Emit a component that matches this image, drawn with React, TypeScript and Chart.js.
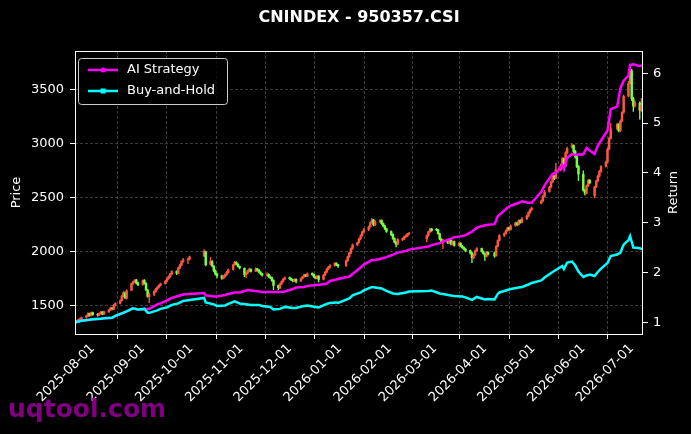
import React, { useEffect, useRef } from "react";
import { Chart, registerables } from "chart.js";

Chart.register(...registerables);

// calendar
const startDate = "2025-07-21";
const endDate = "2026-07-08";
const monthTicks = [
  "2025-08-01", "2025-09-01", "2025-10-01", "2025-11-01", "2025-12-01", "2026-01-01",
  "2026-02-01", "2026-03-01", "2026-04-01", "2026-05-01", "2026-06-01", "2026-07-01",
];
const holidays = [
  "2025-10-01", "2025-10-02", "2025-10-03", "2025-10-06", "2025-10-07", "2025-10-08",
  "2026-01-01", "2026-01-02", "2026-02-16", "2026-02-17", "2026-02-18", "2026-02-19",
  "2026-02-20", "2026-02-23", "2026-04-06", "2026-05-01", "2026-05-04", "2026-05-05",
  "2026-06-19",
];

// daily candles, one row per trading day: [open, high, low, close]
const ohlc = [
  [1338, 1352, 1330, 1345], [1346, 1368, 1340, 1362], [1360, 1378, 1352, 1371], [1372, 1388, 1364, 1380], [1378, 1398, 1372, 1392],
  [1394, 1412, 1386, 1405], [1406, 1436, 1400, 1428], [1430, 1434, 1404, 1412], [1410, 1442, 1406, 1436], [1438, 1442, 1414, 1420],
  [1421, 1430, 1405, 1418], [1416, 1436, 1410, 1430], [1431, 1450, 1424, 1442], [1444, 1448, 1418, 1425], [1424, 1452, 1420, 1447],
  [1446, 1468, 1440, 1462], [1463, 1488, 1458, 1480], [1482, 1486, 1462, 1471], [1470, 1512, 1466, 1505], [1506, 1530, 1498, 1522],
  [1524, 1556, 1518, 1548], [1550, 1598, 1544, 1590], [1592, 1632, 1585, 1620], [1622, 1628, 1568, 1575], [1572, 1650, 1562, 1640],
  [1645, 1712, 1640, 1705], [1708, 1730, 1698, 1722], [1726, 1744, 1716, 1738], [1740, 1746, 1704, 1712], [1714, 1720, 1688, 1696],
  [1698, 1742, 1690, 1735], [1738, 1744, 1702, 1712], [1710, 1716, 1642, 1650], [1648, 1652, 1580, 1588], [1585, 1618, 1530, 1606],
  [1608, 1640, 1596, 1632], [1634, 1662, 1626, 1655], [1656, 1680, 1648, 1672], [1674, 1698, 1664, 1690], [1692, 1712, 1684, 1705],
  [1706, 1736, 1700, 1728], [1730, 1760, 1722, 1752], [1754, 1778, 1746, 1770], [1772, 1802, 1764, 1795], [1797, 1826, 1790, 1818],
  [1820, 1826, 1790, 1802], [1800, 1858, 1796, 1850], [1852, 1886, 1844, 1878], [1880, 1918, 1872, 1910], [1912, 1940, 1902, 1925],
  [1926, 1944, 1890, 1932], [1934, 1962, 1924, 1955],
  [1962, 2022, 1955, 2005], [2000, 2008, 1870, 1880],
  [1885, 1948, 1878, 1915], [1912, 1920, 1862, 1870], [1868, 1874, 1815, 1828], [1826, 1834, 1785, 1795], [1796, 1804, 1760, 1780],
  [1778, 1786, 1745, 1758], [1756, 1780, 1750, 1772], [1770, 1798, 1764, 1790], [1788, 1820, 1782, 1812], [1810, 1842, 1804, 1835],
  [1838, 1888, 1830, 1880], [1882, 1912, 1876, 1902], [1904, 1908, 1880, 1888], [1886, 1892, 1858, 1865], [1866, 1870, 1842, 1852],
  [1848, 1852, 1770, 1790], [1788, 1810, 1762, 1802], [1804, 1832, 1796, 1825], [1826, 1850, 1818, 1838], [1840, 1844, 1812, 1820],
  [1822, 1852, 1816, 1842], [1844, 1848, 1822, 1830], [1832, 1836, 1806, 1812], [1810, 1818, 1788, 1796], [1798, 1802, 1776, 1785],
  [1784, 1806, 1778, 1790], [1792, 1798, 1764, 1772], [1770, 1778, 1752, 1760], [1762, 1766, 1726, 1735], [1736, 1742, 1650, 1690],
  [1688, 1694, 1648, 1668], [1666, 1710, 1660, 1702], [1704, 1732, 1696, 1725], [1726, 1756, 1720, 1748], [1750, 1770, 1742, 1760],
  [1762, 1768, 1744, 1752], [1754, 1758, 1734, 1740], [1742, 1746, 1722, 1732], [1730, 1752, 1724, 1745], [1746, 1750, 1712, 1728],
  [1730, 1760, 1724, 1752], [1754, 1774, 1748, 1768], [1770, 1794, 1764, 1785], [1786, 1792, 1770, 1778], [1776, 1806, 1770, 1798],
  [1800, 1806, 1782, 1790], [1792, 1796, 1764, 1770], [1772, 1776, 1750, 1758], [1756, 1782, 1750, 1775], [1776, 1780, 1722, 1745],
  [1746, 1792, 1740, 1785], [1788, 1820, 1780, 1812], [1814, 1848, 1806, 1840], [1842, 1866, 1834, 1858], [1860, 1882, 1850, 1872],
  [1874, 1902, 1866, 1895], [1896, 1900, 1872, 1880], [1882, 1886, 1856, 1868],
  [1872, 1926, 1866, 1918], [1920, 1962, 1912, 1955], [1957, 1998, 1950, 1990], [1992, 2038, 1984, 2030], [2032, 2074, 2024, 2065],
  [2066, 2092, 2056, 2085], [2088, 2128, 2080, 2120], [2122, 2158, 2112, 2150], [2152, 2192, 2146, 2185], [2186, 2218, 2178, 2205],
  [2208, 2240, 2196, 2232], [2234, 2278, 2226, 2270], [2272, 2310, 2264, 2295], [2296, 2302, 2240, 2250], [2252, 2288, 2244, 2280],
  [2282, 2296, 2270, 2290], [2292, 2298, 2254, 2262], [2264, 2270, 2232, 2240], [2242, 2248, 2206, 2215], [2214, 2220, 2180, 2190],
  [2188, 2194, 2150, 2160], [2162, 2168, 2116, 2125], [2124, 2130, 2082, 2090], [2088, 2096, 2046, 2070], [2072, 2124, 2064, 2115],
  [2112, 2130, 2104, 2122], [2120, 2146, 2114, 2138], [2140, 2158, 2132, 2150], [2148, 2172, 2142, 2165], [2166, 2182, 2158, 2172],
  [2120, 2158, 2092, 2150], [2152, 2192, 2144, 2185], [2186, 2220, 2178, 2210], [2212, 2218, 2190, 2198],
  [2212, 2216, 2196, 2205], [2206, 2210, 2162, 2170], [2168, 2174, 2112, 2120], [2118, 2124, 2086, 2095], [2094, 2118, 2030, 2110],
  [2108, 2112, 2076, 2085], [2084, 2118, 2078, 2110], [2112, 2116, 2064, 2072], [2070, 2102, 2064, 2095], [2096, 2100, 2052, 2060],
  [2062, 2088, 2056, 2078], [2080, 2086, 2046, 2052], [2054, 2060, 2032, 2040], [2042, 2048, 2018, 2025], [2026, 2032, 2000, 2010],
  [2012, 2018, 1980, 1990], [1992, 1996, 1900, 1945], [1944, 1980, 1938, 1972], [1974, 2018, 1966, 2010], [2012, 2040, 2004, 2030],
  [2032, 2036, 1998, 2005], [2004, 2010, 1978, 1985], [1984, 1990, 1920, 1960], [1958, 2002, 1952, 1995], [1996, 2000, 1970, 1978],
  [1990, 2000, 1950, 1962], [1964, 2058, 1960, 2050], [2052, 2112, 2046, 2105], [2106, 2160, 2100, 2150],
  [2152, 2176, 2140, 2168], [2170, 2204, 2164, 2195], [2196, 2230, 2190, 2222], [2224, 2230, 2200, 2210], [2208, 2250, 2202, 2240],
  [2242, 2276, 2236, 2268], [2270, 2276, 2244, 2252], [2254, 2298, 2248, 2290], [2292, 2298, 2266, 2275], [2274, 2320, 2268, 2305],
  [2306, 2340, 2300, 2330], [2332, 2372, 2324, 2362], [2364, 2398, 2356, 2390], [2392, 2415, 2384, 2405],
  [2450, 2482, 2444, 2470], [2472, 2524, 2464, 2515], [2516, 2570, 2508, 2552],
  [2560, 2608, 2552, 2598], [2600, 2656, 2592, 2645], [2648, 2712, 2640, 2700], [2702, 2710, 2668, 2680], [2682, 2820, 2676, 2760],
  [2762, 2812, 2750, 2800], [2802, 2874, 2794, 2862], [2864, 2870, 2770, 2790], [2792, 2928, 2786, 2915], [2916, 2970, 2908, 2955],
  [2970, 3000, 2960, 2985], [2986, 2992, 2920, 2930], [2932, 2940, 2868, 2880], [2882, 2888, 2780, 2790], [2792, 2800, 2660, 2720],
  [2718, 2750, 2562, 2570], [2572, 2580, 2525, 2545], [2546, 2620, 2538, 2610], [2612, 2672, 2604, 2660], [2662, 2670, 2630, 2640],
  [2520, 2608, 2500, 2600], [2602, 2664, 2594, 2655], [2656, 2712, 2648, 2700], [2702, 2756, 2694, 2745], [2746, 2800, 2736, 2790],
  [2792, 2842, 2784, 2830], [2832, 2962, 2824, 2950], [2952, 3062, 2944, 3050], [3052, 3190, 3044, 3140],
  [3142, 3192, 3130, 3180], [3182, 3188, 3110, 3120], [3122, 3222, 3114, 3210], [3212, 3300, 3204, 3290], [3292, 3452, 3284, 3440],
  [3442, 3580, 3434, 3560], [3562, 3710, 3554, 3675], [3676, 3690, 3400, 3420], [3418, 3430, 3300, 3350], [3352, 3396, 3340, 3380],
  [3378, 3390, 3230, 3310], [3312, 3420, 3300, 3360], [3362, 3372, 3300, 3320],
];

// return curves, sampled about twice a week (days since start date)
const lineDay = [
  0, 4, 9, 11, 16, 18, 23, 25, 29, 32, 36, 39, 43, 45, 46, 51, 53, 57, 60, 64, 67, 71, 80, 81, 86, 88, 93, 95, 99, 102,
  107, 109, 114, 116, 121, 123, 127, 130, 135, 137, 142, 144, 149, 151, 156, 158, 162, 163, 170, 172, 177, 179, 184, 186,
  190, 193, 197, 200, 205, 207, 219, 221, 226, 228, 233, 235, 240, 242, 246, 249, 254, 256, 260, 262, 263, 268, 270, 275,
  277, 281, 283, 289, 291, 296, 298, 302, 303, 305, 308, 310, 312, 315, 317, 319, 322, 324, 326, 330, 332, 336, 338, 340,
  343, 344, 346, 349, 352,
];
const stratReturn = [
  1.0, 1.03, 1.05, 1.06, 1.07, 1.08, 1.09, 1.13, 1.18, 1.22, 1.28, 1.26, 1.27, 1.27, 1.27, 1.36, 1.38, 1.44, 1.49, 1.53,
  1.56, 1.57, 1.59, 1.54, 1.52, 1.52, 1.55, 1.57, 1.6, 1.6, 1.65, 1.64, 1.62, 1.61, 1.61, 1.61, 1.61, 1.62, 1.67, 1.7,
  1.71, 1.73, 1.75, 1.75, 1.78, 1.83, 1.86, 1.87, 1.92, 1.97, 2.1, 2.16, 2.25, 2.25, 2.28, 2.31, 2.36, 2.4, 2.43, 2.46,
  2.52, 2.55, 2.59, 2.62, 2.68, 2.71, 2.73, 2.75, 2.82, 2.9, 2.95, 2.96, 2.97, 3.13, 3.16, 3.3, 3.34, 3.4, 3.43, 3.4,
  3.4, 3.62, 3.75, 3.98, 4.0, 4.15, 4.07, 4.3, 4.38, 4.36, 4.37, 4.37, 4.5, 4.45, 4.38, 4.55, 4.65, 4.85, 5.28, 5.33,
  5.7, 5.85, 5.95, 6.17, 6.18, 6.15, 6.15,
];
const holdReturn = [
  1.0, 1.03, 1.05, 1.06, 1.07, 1.08, 1.09, 1.13, 1.18, 1.22, 1.28, 1.26, 1.27, 1.19, 1.19, 1.24, 1.27, 1.3, 1.35, 1.38,
  1.43, 1.45, 1.49, 1.4, 1.36, 1.33, 1.34, 1.37, 1.42, 1.38, 1.36, 1.35, 1.35, 1.33, 1.31, 1.26, 1.27, 1.31, 1.29, 1.29,
  1.33, 1.34, 1.31, 1.3, 1.37, 1.39, 1.4, 1.39, 1.48, 1.54, 1.6, 1.64, 1.71, 1.7, 1.68, 1.63, 1.58, 1.57, 1.6, 1.62,
  1.63, 1.64, 1.58, 1.57, 1.54, 1.53, 1.52, 1.5, 1.45, 1.51, 1.46, 1.47, 1.46, 1.57, 1.6, 1.65, 1.67, 1.7, 1.71, 1.76,
  1.79, 1.84, 1.9, 2.01, 2.05, 2.13, 2.07, 2.2, 2.22, 2.14, 2.02, 1.91, 1.94, 1.96, 1.93, 2.01, 2.08, 2.19, 2.33, 2.36,
  2.4, 2.56, 2.65, 2.73, 2.5, 2.49, 2.47,
];

const priceTicks = [1500, 2000, 2500, 3000, 3500];
const returnTicks = [1, 2, 3, 4, 5, 6];

const DAY = 86400000;
const t0 = Date.parse(startDate);
const dayOf = (s: string) => Math.round((Date.parse(s) - t0) / DAY);
const lastDay = dayOf(endDate);
const holidayDays = new Set(holidays.map(dayOf));
const tradeDays: number[] = [];
for (let d = 0; d <= lastDay; d++) {
  const wd = new Date(t0 + d * DAY).getUTCDay();
  if (wd !== 0 && wd !== 6 && !holidayDays.has(d)) tradeDays.push(d);
}

const UP = "#ff5544";
const DOWN = "#77ff44";
const FONT = "DejaVu Sans";
const isUp = (i: number) => ohlc[i][3] >= ohlc[i][0];

const decor = {
  id: "decor",
  beforeDraw(chart: any) {
    const { ctx, width, height } = chart;
    ctx.save();
    ctx.fillStyle = "#000";
    ctx.fillRect(0, 0, width, height);
    ctx.restore();
  },
  afterDraw(chart: any) {
    const { ctx, chartArea: a } = chart;
    ctx.save();
    // frame
    ctx.strokeStyle = "#fff";
    ctx.lineWidth = 1;
    ctx.strokeRect(a.left + 0.5, a.top + 0.5, a.right - a.left - 1, a.bottom - a.top);

    ctx.fillStyle = "#fff";
    ctx.textAlign = "center";
    ctx.textBaseline = "middle";
    ctx.font = `bold 16px ${FONT}`;
    ctx.fillText("CNINDEX - 950357.CSI", 359, 18);

    ctx.font = `13px ${FONT}`;
    ctx.save();
    ctx.translate(17, (a.top + a.bottom) / 2);
    ctx.rotate(-Math.PI / 2);
    ctx.fillText("Price", 0, 0);
    ctx.restore();
    ctx.save();
    ctx.translate(674, (a.top + a.bottom) / 2);
    ctx.rotate(-Math.PI / 2);
    ctx.fillText("Return", 0, 0);
    ctx.restore();

    // legend
    const lx = 78, ly = 58, lw = 149, lh = 46;
    ctx.beginPath();
    ctx.roundRect(lx + 0.5, ly + 0.5, lw, lh, 3);
    ctx.fillStyle = "rgba(0,0,0,0.8)";
    ctx.fill();
    ctx.strokeStyle = "#cccccc";
    ctx.stroke();
    const items = [
      { label: "AI Strategy", color: "#ff00ff", y: 70, marker: "circle" },
      { label: "Buy-and-Hold", color: "#00ffff", y: 91, marker: "square" },
    ];
    for (const it of items) {
      ctx.strokeStyle = it.color;
      ctx.lineWidth = 2.5;
      ctx.beginPath();
      ctx.moveTo(88, it.y);
      ctx.lineTo(118, it.y);
      ctx.stroke();
      ctx.fillStyle = it.color;
      if (it.marker === "circle") {
        ctx.beginPath();
        ctx.arc(103, it.y, 2.5, 0, Math.PI * 2);
        ctx.fill();
      } else {
        ctx.fillRect(100.5, it.y - 2.5, 5, 5);
      }
      ctx.fillStyle = "#fff";
      ctx.textAlign = "left";
      ctx.fillText(it.label, 127, it.y);
    }

    // watermark
    ctx.font = `bold 25px ${FONT}`;
    ctx.fillStyle = "rgba(140,0,140,0.92)";
    ctx.textAlign = "left";
    ctx.textBaseline = "alphabetic";
    ctx.fillText("uqtool.com", 8, 417);
    ctx.restore();
  },
};

export default function App() {
  const canvasRef = useRef<HTMLCanvasElement>(null);

  useEffect(() => {
    if (!canvasRef.current) return;
    const tickDays = monthTicks.map(dayOf);
    const font = { family: FONT, size: 13 };
    const chart = new Chart(canvasRef.current, {
      type: "bar",
      data: {
        datasets: [
          {
            type: "line",
            label: "Buy-and-Hold",
            data: lineDay.map((d, i) => ({ x: d, y: holdReturn[i] })),
            borderColor: "#00ffff",
            borderWidth: 2.5,
            pointRadius: 0,
            tension: 0,
            yAxisID: "y1",
            order: 0,
          },
          {
            type: "line",
            label: "AI Strategy",
            data: lineDay.map((d, i) => ({ x: d, y: stratReturn[i] })),
            borderColor: "#ff00ff",
            borderWidth: 2.5,
            pointRadius: 0,
            tension: 0,
            yAxisID: "y1",
            order: 1,
          },
          {
            label: "body",
            data: tradeDays.map((d, i) => ({ x: d, y: [ohlc[i][0], ohlc[i][3]] })),
            backgroundColor: (c: any) => (isUp(c.dataIndex) ? UP : DOWN),
            barThickness: 1.8,
            grouped: false,
            yAxisID: "y",
            order: 2,
          },
          {
            label: "wick",
            data: tradeDays.map((d, i) => ({ x: d, y: [ohlc[i][2], ohlc[i][1]] })),
            backgroundColor: (c: any) => (isUp(c.dataIndex) ? UP : DOWN),
            barThickness: 0.7,
            grouped: false,
            yAxisID: "y",
            order: 3,
          },
        ] as any,
      },
      options: {
        animation: false,
        responsive: true,
        maintainAspectRatio: false,
        layout: { padding: { top: 51, left: 0, right: 0, bottom: 0 } },
        plugins: { legend: { display: false }, tooltip: { enabled: false } },
        scales: {
          x: {
            type: "linear",
            min: 0,
            max: lastDay,
            offset: false,
            afterBuildTicks: (s: any) => {
              s.ticks = tickDays.map((v) => ({ value: v }));
            },
            afterFit: (s: any) => {
              s.height = 100;
            },
            ticks: {
              color: "#fff",
              font,
              autoSkip: false,
              maxRotation: 45,
              minRotation: 45,
              padding: 2,
              callback: (v: any) => {
                const i = tickDays.indexOf(Number(v));
                return i >= 0 ? monthTicks[i] : "";
              },
            },
            grid: { color: "#4a4a4a", lineWidth: 0.8, tickColor: "#fff", tickLength: 5, tickWidth: 1 },
            border: { display: false, dash: [3, 2] },
          },
          y: {
            type: "linear",
            position: "left",
            min: 1240,
            max: 3860,
            afterBuildTicks: (s: any) => {
              s.ticks = priceTicks.map((v) => ({ value: v }));
            },
            afterFit: (s: any) => {
              s.width = 75;
            },
            ticks: { color: "#fff", font, padding: 6, callback: (v: any) => String(v) },
            grid: { color: "#4a4a4a", lineWidth: 0.8, tickColor: "#fff", tickLength: 5, tickWidth: 1 },
            border: { display: false, dash: [3, 2] },
          },
          y1: {
            type: "linear",
            position: "right",
            min: 0.766,
            max: 6.446,
            afterBuildTicks: (s: any) => {
              s.ticks = returnTicks.map((v) => ({ value: v }));
            },
            afterFit: (s: any) => {
              s.width = 48;
            },
            ticks: { color: "#fff", font, padding: 5, callback: (v: any) => String(v) },
            grid: { drawOnChartArea: false, tickColor: "#fff", tickLength: 5, tickWidth: 1 },
            border: { display: false },
          },
        },
      } as any,
      plugins: [decor],
    });
    return () => chart.destroy();
  }, []);

  return (
    <div style={{ position: "fixed", left: 0, top: 0, width: 691, height: 434, background: "#000" }}>
      <canvas ref={canvasRef} />
    </div>
  );
}
